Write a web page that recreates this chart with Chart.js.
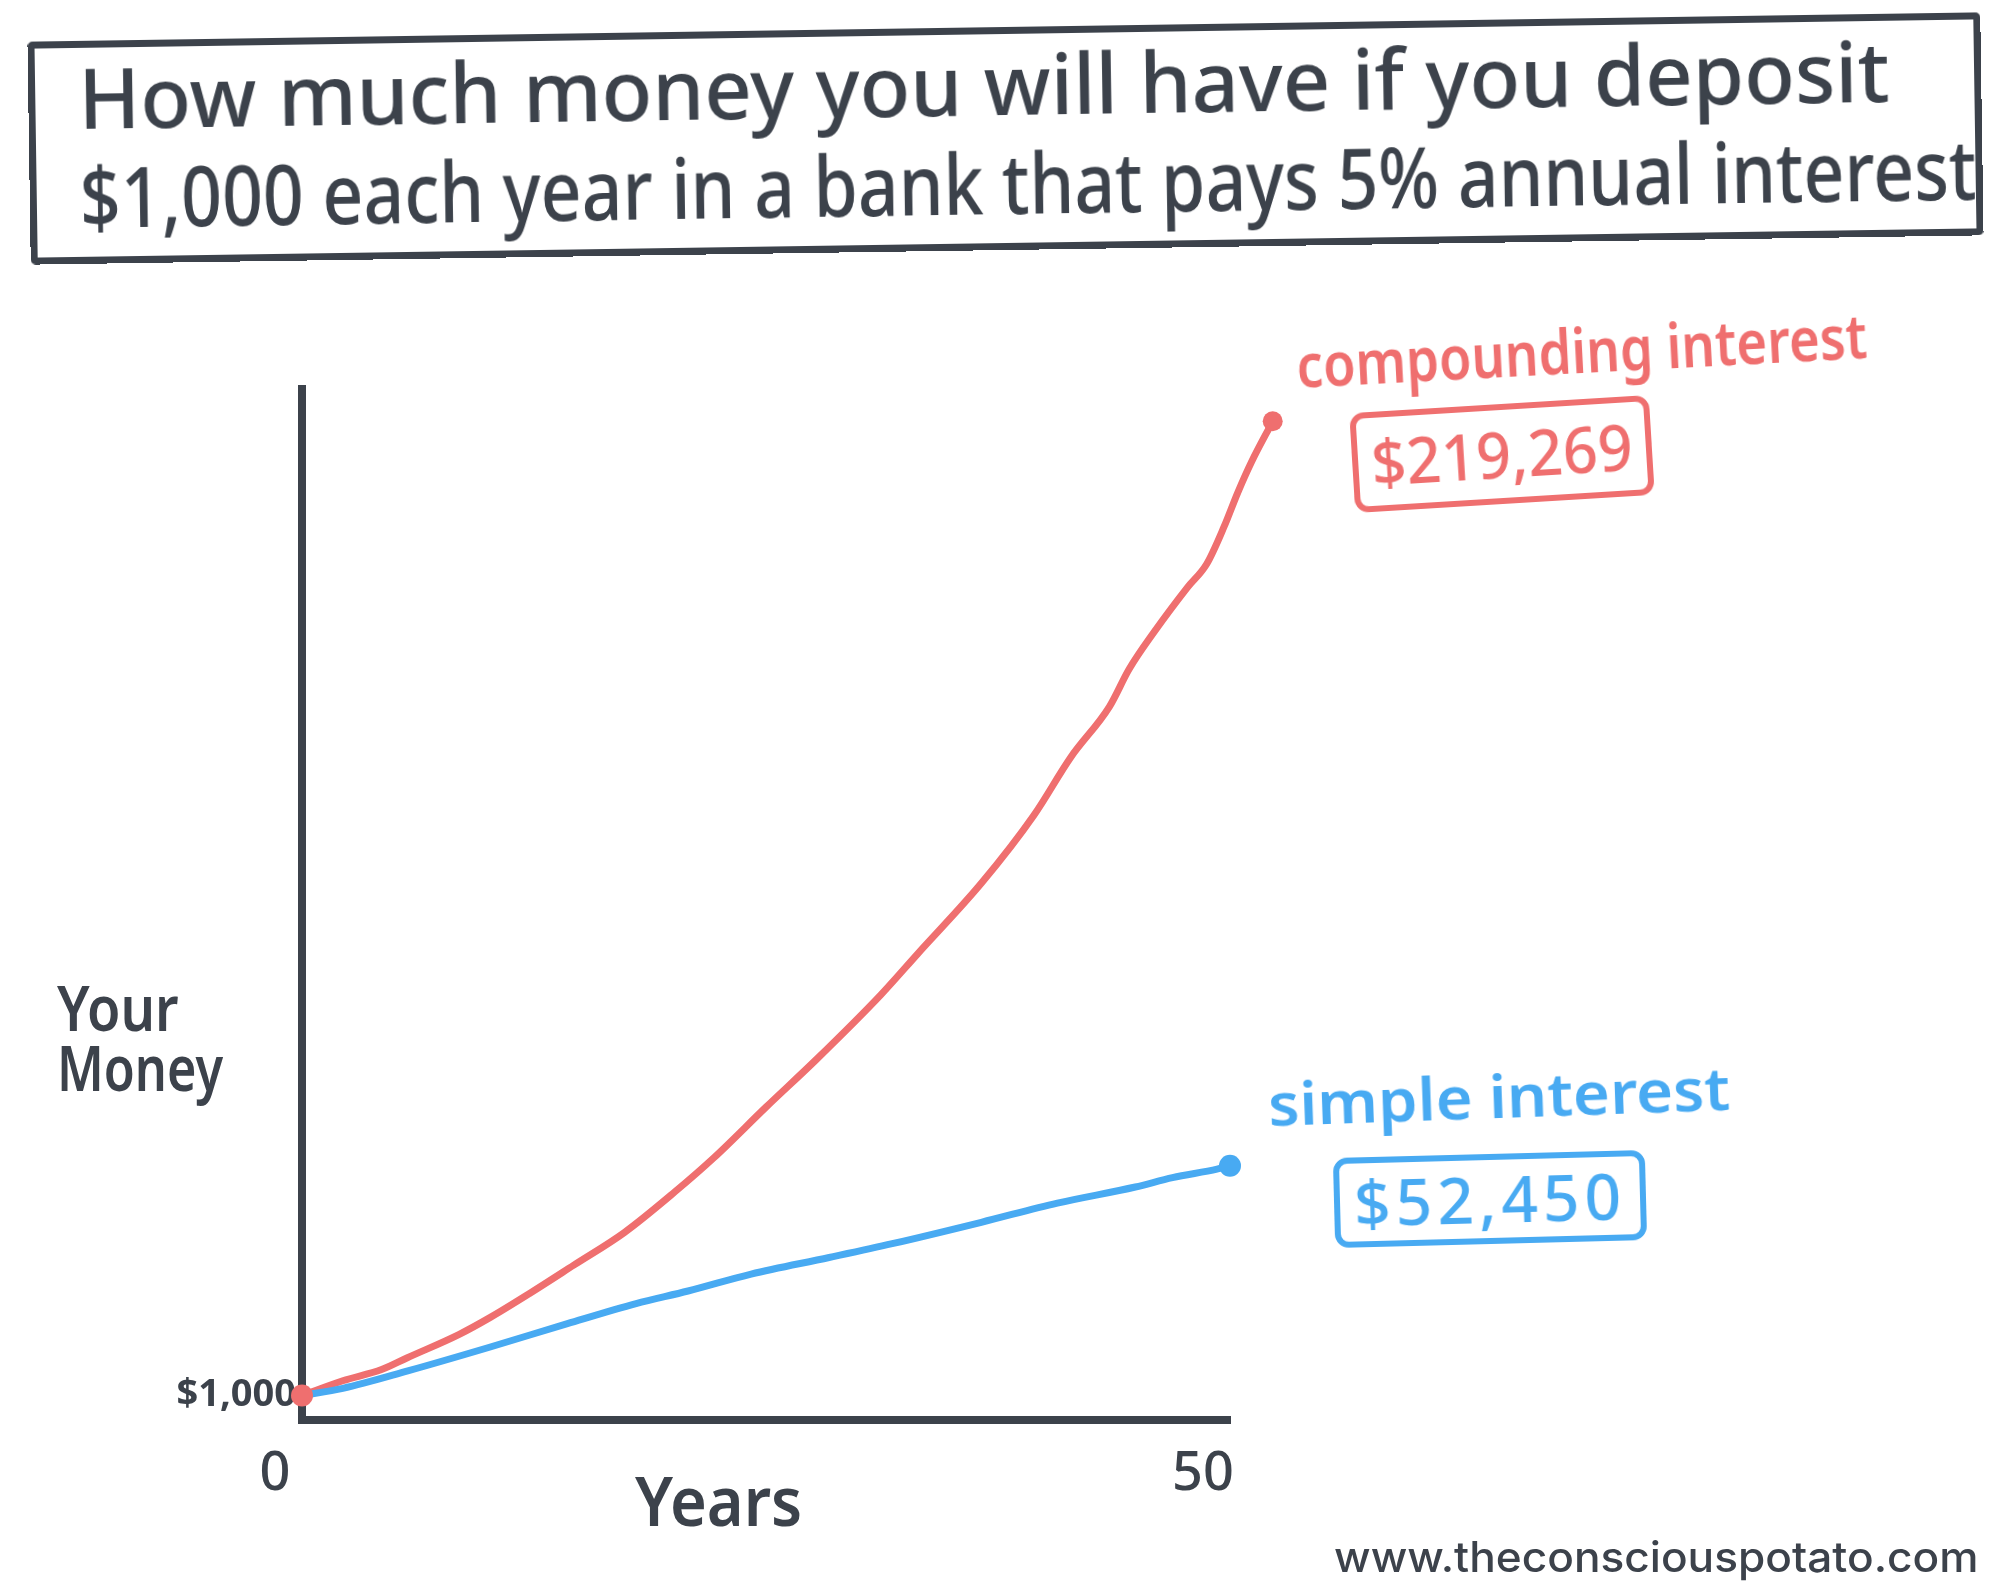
<!DOCTYPE html>
<html>
<head>
<meta charset="utf-8">
<script src="https://cdn.jsdelivr.net/npm/chart.js@4.4.1/dist/chart.umd.min.js"></script>
<style>
  html, body { margin: 0; padding: 0; background: #fff; }
  #wrap { position: relative; width: 2002px; height: 1591px; overflow: hidden;
          font-family: 'Noto Sans', sans-serif; color: #3c424b; }
  #wrap canvas { position: absolute; left: 0; top: 0; }
  .lab { position: absolute; line-height: 1; white-space: nowrap; transform-origin: center center; }
  .lab span { display: inline-block; transform-origin: left center; }
  #titleBox { position: absolute; left: 29px; top: 27px; width: 1953px; height: 223px;
              box-sizing: border-box; border: 7px solid #3c424b; border-radius: 5px;
              transform: rotate(-0.86deg); }
  #titleBox .lab { font-size: 84px; font-weight: 500; left: 43px; }
  .vbox { position: absolute; box-sizing: border-box; border-radius: 14px;
          display: flex; align-items: center; justify-content: center;
          font-size: 64px; font-weight: 500; line-height: 1; white-space: nowrap; }
  .vbox span { display: inline-block; transform-origin: center center; }
</style>
</head>
<body>
<div id="wrap">
  <canvas id="moneyChart"></canvas>

  <div id="titleBox">
    <div class="lab" style="top:7px"><span data-w="1811" data-mode="space">How much money you will have if you deposit</span></div>
    <div class="lab" style="top:106px"><span data-w="1897" data-mode="space">$1,000 each year in a bank that pays 5% annual interest</span></div>
  </div>

  <div class="lab" style="left:57px; top:975px; font-size:64px; font-weight:600"><span data-w="122">Your</span></div>
  <div class="lab" style="left:57px; top:1035px; font-size:64px; font-weight:600"><span data-w="166">Money</span></div>
  <div class="lab" style="left:635px; top:1466px; font-size:68px; font-weight:600"><span data-w="167">Years</span></div>

  <div class="lab" style="left:1296px; top:318px; width:571px; font-size:62px; font-weight:600; color:#ef6f6f; transform:rotate(-3deg)"><span data-w="571">compounding interest</span></div>
  <div class="vbox" style="left:1352px; top:404px; width:300px; height:100px; border:6px solid #ef6f6f; color:#ef6f6f; transform:rotate(-3.5deg)"><span data-w="262">$219,269</span></div>

  <div class="lab" style="left:1268px; top:1065px; width:462px; font-size:60px; font-weight:600; color:#48aaf2; transform:rotate(-2deg)"><span data-w="462">simple interest</span></div>
  <div class="vbox" style="left:1334px; top:1154px; width:312px; height:90px; border:6px solid #48aaf2; color:#48aaf2; transform:rotate(-1.5deg)"><span data-w="272" data-mode="letter">$52,450</span></div>

  <div class="lab" style="left:1334px; top:1536px; font-family:Inter, sans-serif; font-size:42px; font-weight:500"><span data-w="645">www.theconsciouspotato.com</span></div>
</div>

<script>
// values (years, dollars)
const compoundYears  = [0, 2.1, 4.1, 5.4, 8.1, 9.7, 11.7, 14.0, 16.6, 19.2, 21.2, 23.9, 26.5, 29.8, 31.7, 35.0, 37.7, 39.6, 41.6, 42.6, 43.9, 45.6, 46.6, 47.5, 48.2, 48.9, 50];
const compoundValues = [1000, 4300, 6800, 9400, 14700, 18500, 23800, 30200, 37500, 46600, 54200, 65600, 76300, 90700, 99900, 115800, 131000, 144000, 155400, 163700, 172100, 182000, 187300, 195700, 203300, 210100, 219269];

const simpleYears  = [0, 2.2, 5.7, 10.1, 14.3, 18.0, 20.8, 24.2, 28.4, 31.8, 36.6, 40.7, 44.9, 46.9, 49.3, 50];
const simpleValues = [1000, 2600, 6500, 11800, 17100, 21600, 24400, 28200, 31900, 35000, 39800, 44100, 47700, 49800, 51700, 52450];

const xTicks = [0, 50];
const yTicks = [1000];

const INK = '#3c424b';
const RED = '#ef6f6f';
const BLUE = '#48aaf2';

function toPoints(xs, ys) {
    return xs.map((x, i) => ({ x: x, y: ys[i] }));
}

function fitLabels() {
    document.querySelectorAll('[data-w]').forEach(el => {
        const target = +el.dataset.w;
        const w = el.offsetWidth;
        const mode = el.dataset.mode;
        const spaces = (el.textContent.match(/ /g) || []).length;
        if (mode === 'space' && w < target && spaces) {
            el.style.wordSpacing = ((target - w) / spaces) + 'px';
        } else if (mode === 'letter' && w < target) {
            el.style.letterSpacing = ((target - w) / el.textContent.length) + 'px';
        } else {
            el.style.transform = 'scaleX(' + (target / w) + ')';
        }
    });
}

// round markers on the chosen points; drawn here because the
// compounding end point sits just outside the chart area
const endDots = {
    id: 'endDots',
    afterDatasetsDraw(chart) {
        const { ctx } = chart;
        chart.data.datasets.forEach((ds, i) => {
            const meta = chart.getDatasetMeta(i);
            (ds.dots || []).forEach(d => {
                const el = meta.data[d.index < 0 ? meta.data.length + d.index : d.index];
                if (!el) return;
                ctx.save();
                ctx.fillStyle = ds.borderColor;
                ctx.beginPath();
                ctx.arc(el.x, el.y, d.r, 0, Math.PI * 2);
                ctx.fill();
                ctx.restore();
            });
        });
    }
};

Chart.defaults.font.family = "'Noto Sans', sans-serif";
Chart.defaults.color = INK;

const ctx = document.getElementById('moneyChart').getContext('2d');
new Chart(ctx, {
    type: 'line',
    data: {
        datasets: [{
            label: 'simple interest',
            data: toPoints(simpleYears, simpleValues),
            borderColor: BLUE,
            borderWidth: 7,
            cubicInterpolationMode: 'monotone',
            pointRadius: 0,
            dots: [{ index: -1, r: 11 }],
            clip: false,
            xAxisID: 'x'
        }, {
            label: 'compounding interest',
            data: toPoints(compoundYears, compoundValues),
            borderColor: RED,
            borderWidth: 7,
            cubicInterpolationMode: 'monotone',
            pointRadius: 0,
            dots: [{ index: 0, r: 11 }, { index: -1, r: 10 }],
            clip: false,
            xAxisID: 'x2'
        }]
    },
    options: {
        responsive: true,
        maintainAspectRatio: false,
        animation: false,
        layout: { padding: { left: 162, right: 772, top: 389, bottom: 51 } },
        plugins: { legend: { display: false }, tooltip: { enabled: false } },
        scales: {
            x: {
                type: 'linear',
                min: 0,
                max: 50,
                grid: { display: false, drawTicks: false },
                border: { display: true, color: INK, width: 8 },
                afterBuildTicks: s => { s.ticks = xTicks.map(v => ({ value: v })); },
                afterFit: s => { s.height = 120; },
                ticks: {
                    padding: 22,
                    labelOffset: -27,
                    maxRotation: 0,
                    font: { size: 54, weight: 500 },
                    color: INK,
                    callback: v => String(v)
                }
            },
            // the compounding curve was drawn a little further right than the simple one,
            // so it gets its own hidden year axis (range set after the data limits so no point is dropped)
            x2: {
                type: 'linear',
                bounds: 'data',
                display: false,
                afterDataLimits: s => { s.min = 0; s.max = 47.8; }
            },
            y: {
                type: 'linear',
                min: -4500,
                max: 226500,
                grid: { display: false, drawTicks: false },
                border: { display: true, color: INK, width: 8 },
                afterBuildTicks: s => { s.ticks = yTicks.map(v => ({ value: v })); },
                afterFit: s => { s.width = 140; },
                ticks: {
                    padding: 6,
                    font: { size: 38, weight: 'bold' },
                    color: INK,
                    callback: v => '$' + v.toLocaleString('en-US')
                }
            }
        }
    },
    plugins: [endDots]
});

if (document.fonts && document.fonts.ready) {
    document.fonts.ready.then(fitLabels);
} else {
    fitLabels();
}
</script>
</body>
</html>
